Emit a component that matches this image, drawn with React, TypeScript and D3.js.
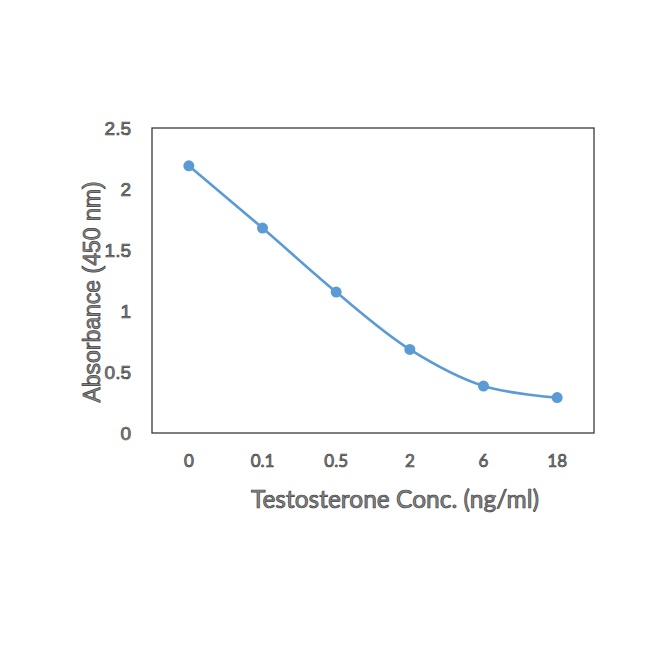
import React, { useEffect, useRef } from 'react';
import * as d3 from 'd3';

const concentrations: string[] = ['0', '0.1', '0.5', '2', '6', '18'];
const absorbance: number[] = [2.19, 1.68, 1.155, 0.685, 0.385, 0.29];
const yTicks: number[] = [0, 0.5, 1, 1.5, 2, 2.5];

const App: React.FC = () => {
  const svgRef = useRef<SVGSVGElement | null>(null);

  useEffect(() => {
    if (!svgRef.current) return;
    const svg = d3.select(svgRef.current);
    svg.selectAll('*').remove();

    const width = 650;
    const height = 650;
    const left = 152;
    const right = 594;
    const top = 128;
    const bottom = 433;

    // outlined grey text, like the scanned original
    const styleText = (sel: any, size: string, family: string) =>
      sel.attr('font-family', family)
        .attr('font-size', size)
        .attr('fill', '#8a8a8a')
        .attr('stroke', '#3c3c3c')
        .attr('stroke-width', 0.7);

    const x = d3.scaleBand<string>().domain(concentrations).range([left, right]);
    const y = d3.scaleLinear().domain([0, 2.5]).range([bottom, top]);

    svg.attr('width', width).attr('height', height);

    svg.append('rect')
      .attr('x', left)
      .attr('y', top)
      .attr('width', right - left)
      .attr('height', bottom - top)
      .attr('fill', 'none')
      .attr('stroke', '#3a3a3a')
      .attr('stroke-width', 1.3);

    // y tick labels
    const yLabels = svg.append('g')
      .selectAll('text')
      .data(yTicks)
      .enter()
      .append('text')
      .attr('x', 131)
      .attr('y', d => y(d))
      .attr('dy', '0.36em')
      .attr('text-anchor', 'end')
      .text(d => String(d));
    styleText(yLabels, '19px', 'Liberation Sans, Arial, sans-serif');

    // x tick labels
    const xLabels = svg.append('g')
      .selectAll('text')
      .data(concentrations)
      .enter()
      .append('text')
      .attr('x', d => (x(d) ?? 0) + x.bandwidth() / 2)
      .attr('y', 467)
      .attr('text-anchor', 'middle')
      .text(d => d);
    styleText(xLabels, '17px', 'Lato, Open Sans, sans-serif');

    const xTitle = svg.append('text')
      .attr('x', 395)
      .attr('y', 508)
      .attr('text-anchor', 'middle')
      .text('Testosterone Conc. (ng/ml)');
    styleText(xTitle, '24.5px', 'Lato, Open Sans, sans-serif');

    const yTitle = svg.append('text')
      .attr('transform', 'translate(100,292) rotate(-90)')
      .attr('text-anchor', 'middle')
      .text('Absorbance (450 nm)');
    styleText(yTitle, '23px', 'Liberation Sans, Arial, sans-serif');

    const pts = concentrations.map((c, i) => ({ c, v: absorbance[i] }));

    const line = d3.line<{ c: string; v: number }>()
      .x(d => (x(d.c) ?? 0) + x.bandwidth() / 2)
      .y(d => y(d.v))
      .curve(d3.curveCatmullRom.alpha(0.5));

    svg.append('path')
      .datum(pts)
      .attr('d', line)
      .attr('fill', 'none')
      .attr('stroke', '#5b9bd5')
      .attr('stroke-width', 2.6);

    svg.append('g')
      .selectAll('circle')
      .data(pts)
      .enter()
      .append('circle')
      .attr('cx', d => (x(d.c) ?? 0) + x.bandwidth() / 2)
      .attr('cy', d => y(d.v))
      .attr('r', 5.5)
      .attr('fill', '#5b9bd5');
  }, []);

  return (
    <div style={{ position: 'absolute', left: 0, top: 0 }}>
      <svg ref={svgRef}></svg>
    </div>
  );
};

export default App;
